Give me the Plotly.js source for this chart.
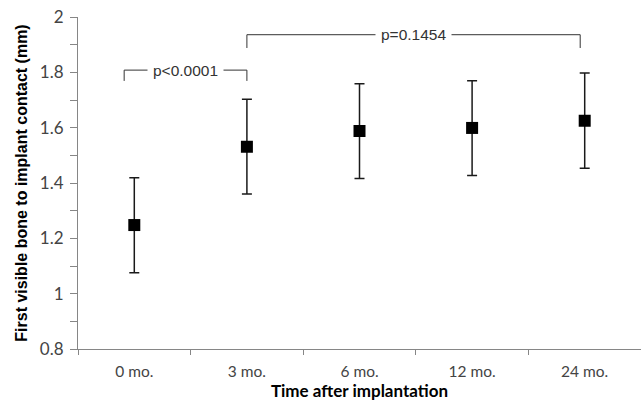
<!DOCTYPE html>
<html>
<head>
<meta charset="utf-8">
<script src="https://cdn.plot.ly/plotly-3.0.1.min.js"></script>
<style>html,body{margin:0;padding:0;background:#fff;}#chart{width:641px;height:407px;}</style>
</head>
<body>
<div id="chart"></div>
<script>
const categories = ["0 mo.", "3 mo.", "6 mo.", "12 mo.", "24 mo."];
const means = [1.248, 1.531, 1.588, 1.599, 1.625];
const errUpper = [0.171, 0.172, 0.171, 0.171, 0.173];
const errLower = [0.172, 0.171, 0.172, 0.172, 0.172];
const yTickVals = [0.8, 0.9, 1.0, 1.1, 1.2, 1.3, 1.4, 1.5, 1.6, 1.7, 1.8, 1.9, 2.0];
const yTickText = ["0.8", "", "1", "", "1.2", "", "1.4", "", "1.6", "", "1.8", "", "2"];
const comparisons = [
  {label: "p<0.0001", x0: -0.09, x1: 1.0, top: 1.808, bottom: 1.769},
  {label: "p=0.1454", x0: 1.0, x1: 3.96, top: 1.936, bottom: 1.888}
];

const trace = {
  type: "scatter",
  mode: "markers",
  x: categories,
  y: means,
  marker: {symbol: "square", size: 12, color: "#000"},
  error_y: {type: "data", symmetric: false, array: errUpper, arrayminus: errLower,
            color: "#1a1a1a", thickness: 1.5, width: 5},
  cliponaxis: false,
  showlegend: false
};

const shapes = [];
const annotations = [];
comparisons.forEach(c => {
  shapes.push({
    type: "path", xref: "x", yref: "y",
    path: `M ${c.x0} ${c.bottom} L ${c.x0} ${c.top} L ${c.x1} ${c.top} L ${c.x1} ${c.bottom}`,
    line: {color: "#333", width: 1}
  });
  annotations.push({
    x: (c.x0 + c.x1) / 2, y: c.top, xref: "x", yref: "y",
    text: c.label, showarrow: false, bgcolor: "#fff", borderpad: 5,
    font: {family: "Liberation Sans, Arial, sans-serif", size: 15.5, color: "#333"}
  });
});

const layout = {
  width: 641, height: 407,
  margin: {l: 78, r: 0, t: 17, b: 58},
  paper_bgcolor: "#fff", plot_bgcolor: "#fff",
  showlegend: false,
  xaxis: {
    type: "category", range: [-0.5, 4.5], automargin: false,
    showline: true, linecolor: "#868686", linewidth: 1,
    ticks: "outside", tickson: "boundaries", ticklen: 5, tickcolor: "#868686",
    ticklabelstandoff: 8,
    showgrid: false, zeroline: false,
    tickfont: {family: "Lato, sans-serif", size: 15.5, color: "#444"},
    title: {text: "Time after implantation", standoff: 4,
            font: {family: "Lato, sans-serif", size: 17, color: "#000", weight: "bold"}}
  },
  yaxis: {
    range: [0.8, 2.0], automargin: false,
    tickvals: yTickVals, ticktext: yTickText,
    showline: true, linecolor: "#868686", linewidth: 1,
    ticks: "outside", ticklen: 7, tickcolor: "#868686",
    ticklabelstandoff: 3,
    showgrid: false, zeroline: false,
    tickfont: {family: "Lato, sans-serif", size: 17, color: "#444"},
    title: {text: "First visible bone to implant contact (mm)", standoff: 8,
            font: {family: "Liberation Sans, Arial, sans-serif", size: 16, color: "#000", weight: "bold"}}
  },
  shapes: shapes,
  annotations: annotations
};

Plotly.newPlot("chart", [trace], layout, {displayModeBar: false, staticPlot: true});
</script>
</body>
</html>
